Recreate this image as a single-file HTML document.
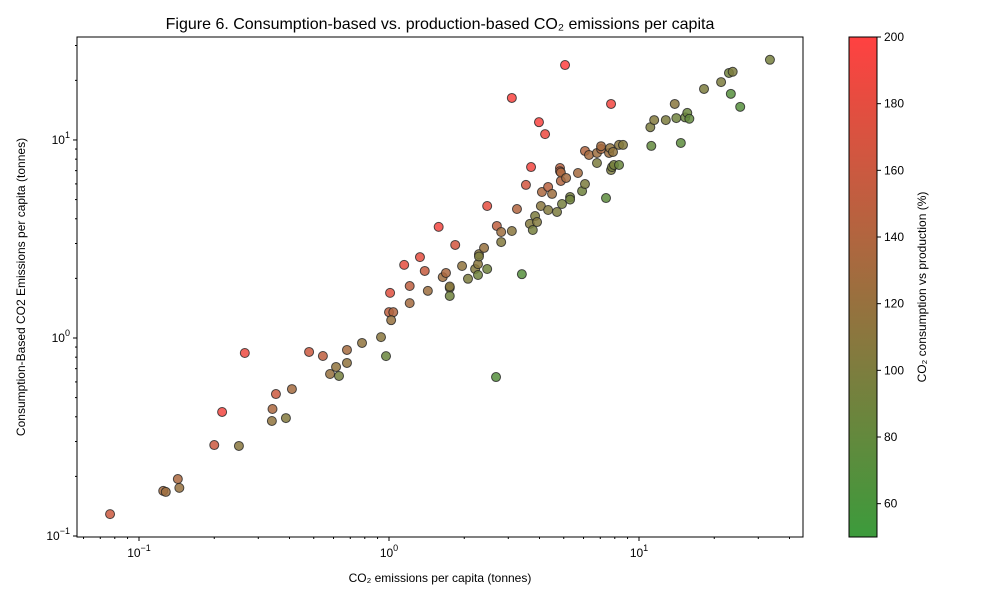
<!DOCTYPE html>
<html><head><meta charset="utf-8"><style>
body{margin:0;background:#fff;}
svg{display:block;font-family:"Liberation Sans","DejaVu Sans",sans-serif;}
</style></head><body>
<svg id="chart" width="1000" height="600" viewBox="0 0 1000 600">
<defs><linearGradient id="cg" x1="0" y1="1" x2="0" y2="0">
<stop offset="0" stop-color="rgb(60,155,60)"/><stop offset="1" stop-color="rgb(255,65,65)"/></linearGradient></defs>
<text x="440" y="29" font-size="16" text-anchor="middle">Figure 6. Consumption-based vs. production-based CO₂ emissions per capita</text>
<text x="440" y="582" font-size="12" text-anchor="middle">CO₂ emissions per capita (tonnes)</text>
<text transform="translate(25,287) rotate(-90)" font-size="12" text-anchor="middle">Consumption-Based CO2 Emissions per capita (tonnes)</text>
<g id="marks"></g>
<g id="axes"></g>
<rect x="849" y="37" width="28" height="500" fill="url(#cg)" stroke="#000" stroke-width="1"/>
<text transform="translate(926,287) rotate(-90)" font-size="12" text-anchor="middle">CO₂ consumption vs production (%)</text>
<g id="cbticks"></g>
</svg>
<script>
const xs=[0.0766,0.125,0.128,0.143,0.145,0.2,0.215,0.251,0.265,0.34,0.342,0.353,0.387,0.409,0.479,0.544,0.581,0.614,0.631,0.679,0.679,0.78,0.929,0.973,1.01,1.0,1.04,1.02,1.15,1.21,1.21,1.33,1.39,1.43,1.58,1.64,1.69,1.75,1.75,1.75,1.84,1.96,2.07,2.21,2.27,2.27,2.29,2.29,2.4,2.47,2.47,2.7,2.81,2.81,2.68,3.1,3.1,3.25,3.4,3.53,3.7,3.66,3.76,3.84,3.91,3.98,4.05,4.09,4.21,4.33,4.33,4.49,4.7,4.83,4.83,4.87,4.87,4.92,5.06,5.11,5.3,5.3,5.7,5.92,6.08,6.08,6.31,6.79,6.79,7.05,7.05,7.38,7.59,7.73,7.66,7.73,7.8,7.87,7.94,8.32,8.32,8.63,11.2,11.1,11.5,12.8,13.9,14.1,14.7,15.3,15.6,15.9,18.2,21.3,22.9,23.7,23.3,25.4,33.4];
const ys=[0.129,0.169,0.167,0.194,0.175,0.288,0.423,0.285,0.84,0.381,0.438,0.521,0.394,0.552,0.85,0.811,0.658,0.714,0.643,0.87,0.748,0.944,1.01,0.81,1.69,1.35,1.35,1.23,2.34,1.83,1.5,2.56,2.18,1.73,3.64,2.03,2.13,1.79,1.63,1.82,2.95,2.31,1.99,2.23,2.36,2.08,2.65,2.58,2.85,4.64,2.23,3.68,3.43,3.05,0.635,3.47,16.3,4.48,2.1,5.93,7.3,3.77,3.51,4.13,3.85,12.3,4.64,5.46,10.7,5.79,4.43,5.34,4.33,7.22,6.95,6.21,6.85,4.75,23.9,6.43,5.15,5.0,6.81,5.52,5.99,8.8,8.4,7.65,8.6,9.0,9.3,5.09,8.6,15.2,9.1,7.05,7.3,8.7,7.48,9.44,7.48,9.44,9.33,11.6,12.6,12.6,15.2,12.9,9.66,13.0,13.7,12.8,18.1,19.6,21.8,22.1,17.1,14.7,25.4];
const ratios=[160,130,125,135,120,160,190,110,185,115,135,160,105,130,160,150,120,115,95,130,115,115,110,85,175,150,140,120,180,150,130,180,155,125,190,125,135,100,90,110,165,115,100,105,110,90,110,100,120,180,90,150,125,105,70,110,195,140,70,165,190,105,95,100,105,195,110,135,185,145,105,125,100,145,150,140,135,95,200,130,95,90,130,90,100,140,130,100,125,135,130,75,125,190,115,100,95,115,95,110,85,105,80,100,105,100,110,90,75,85,85,80,100,100,90,100,70,70,95];
const cbTicks=[60,80,100,120,140,160,180,200];

const NS="http://www.w3.org/2000/svg";
const X0=77,X1=803,Y0=37,Y1=537;
const lx0=-1.248,lx1=1.656,ly0=-1.005,ly1=1.52;
function sx(v){return X0+(Math.log10(v)-lx0)/(lx1-lx0)*(X1-X0);}
function sy(v){return Y1-(Math.log10(v)-ly0)/(ly1-ly0)*(Y1-Y0);}
function sc(v){return Y1-(v-50)/150*(Y1-Y0);}
function col(r){let t=Math.max(0,Math.min(1,(r-50)/150));return `rgb(${Math.round(60+195*t)},${Math.round(155-90*t)},${Math.round(60+5*t)})`;}
function mk(tag,attrs,p){const e=document.createElementNS(NS,tag);for(const k in attrs)e.setAttribute(k,attrs[k]);p.appendChild(e);return e;}
const marks=document.getElementById('marks');
for(let i=0;i<xs.length;i++){
  const c=mk('circle',{cx:sx(xs[i]),cy:sy(ys[i]),r:4.5,fill:col(ratios[i]),'fill-opacity':0.85,stroke:'#222','stroke-opacity':0.8,'stroke-width':1},marks);
  
  
}
const ax=document.getElementById('axes');
const frame=mk('rect',{x:X0,y:Y0,width:X1-X0,height:Y1-Y0,fill:'none',stroke:'#000','stroke-width':1},ax);


function supLabel(x,y,exp,anchor,name){
  const t=mk('text',{x:x,y:y,'font-size':12,'text-anchor':anchor},ax);
  
  
  t.appendChild(document.createTextNode('10'));
  const s=mk('tspan',{'font-size':9,dy:-6},t);s.textContent=exp;
}
for(let d=-2;d<=1;d++){
  for(let m=1;m<10;m++){
    const v=m*Math.pow(10,d);
    const px=sx(v);
    if(px>=X0&&px<=X1){
      mk('line',{x1:px,x2:px,y1:Y1,y2:Y1+(m==1?4:2),stroke:'#000','stroke-width':1},ax);
      if(m==1)supLabel(px,Y1+20,d==-1?'−1':String(d),'middle','x-tick-label');
    }
    const py=sy(v);
    if(py>=Y0-0.5&&py<=Y1+0.5){
      mk('line',{x1:X0,x2:X0-(m==1?4:2),y1:py,y2:py,stroke:'#000','stroke-width':1},ax);
      if(m==1)supLabel(X0-7,py+4,d==-1?'−1':String(d),'end','y-tick-label');
    }
  }
}
const cb=document.getElementById('cbticks');
for(const v of cbTicks){
  const y=sc(v);
  mk('line',{x1:877,x2:881,y1:y,y2:y,stroke:'#000'},cb);
  const t=mk('text',{x:884,y:y+4,'font-size':12},cb);
  
  
  t.textContent=v;
}
</script>
</body></html>
